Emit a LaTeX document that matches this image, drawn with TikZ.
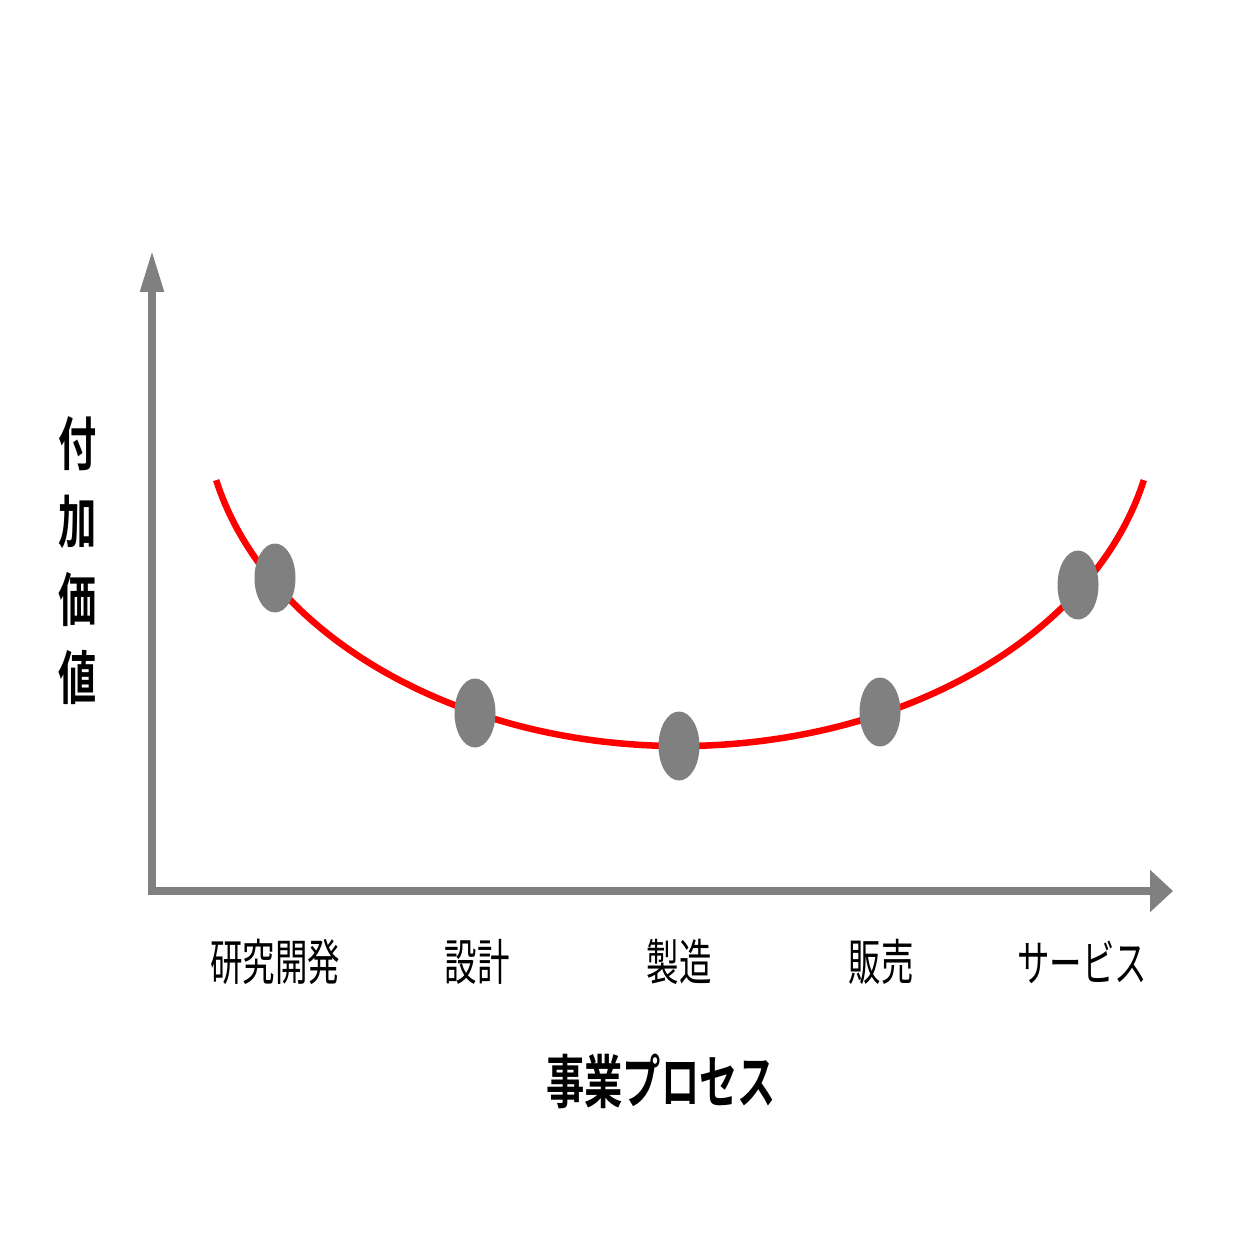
\documentclass[tikz,border=0pt]{standalone}
\usepackage{fontspec}
\newfontfamily\cjk[FakeStretch=0.66]{Noto Sans CJK JP}
\newfontfamily\cjkbold[FakeStretch=0.66]{Noto Sans CJK JP Bold}
\definecolor{axisgray}{RGB}{128,128,128}
\definecolor{curvered}{RGB}{255,0,0}
\usetikzlibrary{arrows.meta,positioning,shapes.geometric}

\begin{document}
\begin{tikzpicture}[
    axisline/.style={draw=axisgray, line width=0.08cm},
    stagedot/.style={ellipse, fill=axisgray, inner sep=0pt, minimum width=0.41cm, minimum height=0.69cm},
    stagelabel/.style={font=\cjk\fontsize{14pt}{14pt}\selectfont, text=black},
    axislabel/.style={font=\cjkbold\fontsize{16.5pt}{16.5pt}\selectfont, text=black}
  ]
  \useasboundingbox (0,0) rectangle (12.36,-12.36);

  % Axes
  \coordinate (origin) at (1.52,-8.91);
  \coordinate (ytip) at (1.52,-2.50);
  \coordinate (xtip) at (11.73,-8.91);
  \draw[axisline, {Triangle[length=0.42cm,width=0.22cm]}-{Triangle[length=0.23cm,width=0.41cm]}] (ytip) -- (origin) -- (xtip);

  % Smile curve
  \draw[curvered, line width=0.065cm] (6.80,-4.03) ++(193:4.76cm and 3.43cm) arc[start angle=193, end angle=347, x radius=4.76cm, y radius=3.43cm];

  % Stages on the curve
  \node[stagedot] (rd) at (2.75,-5.78) {};
  \node[stagedot] (ds) at (4.75,-7.13) {};
  \node[stagedot] (mf) at (6.79,-7.46) {};
  \node[stagedot] (sl) at (8.80,-7.12) {};
  \node[stagedot] (sv) at (10.78,-5.85) {};

  % Stage labels
  \node[stagelabel] (rdlabel) at (2.75,-9.62) {研究開発};
  \node[stagelabel] (dslabel) at (4.77,-9.62) {設計};
  \node[stagelabel] (mflabel) at (6.79,-9.62) {製造};
  \node[stagelabel] (sllabel) at (8.81,-9.62) {販売};
  \node[stagelabel] (svlabel) at (10.82,-9.62) {サービス};

  % Axis titles
  \node[axislabel, align=center] (ytitle) at (0.78,-5.61) {付\\[0.2cm]加\\[0.2cm]価\\[0.2cm]値};
  \node[axislabel] (xtitle) at (6.61,-10.81) {事業プロセス};
\end{tikzpicture}
\end{document}
